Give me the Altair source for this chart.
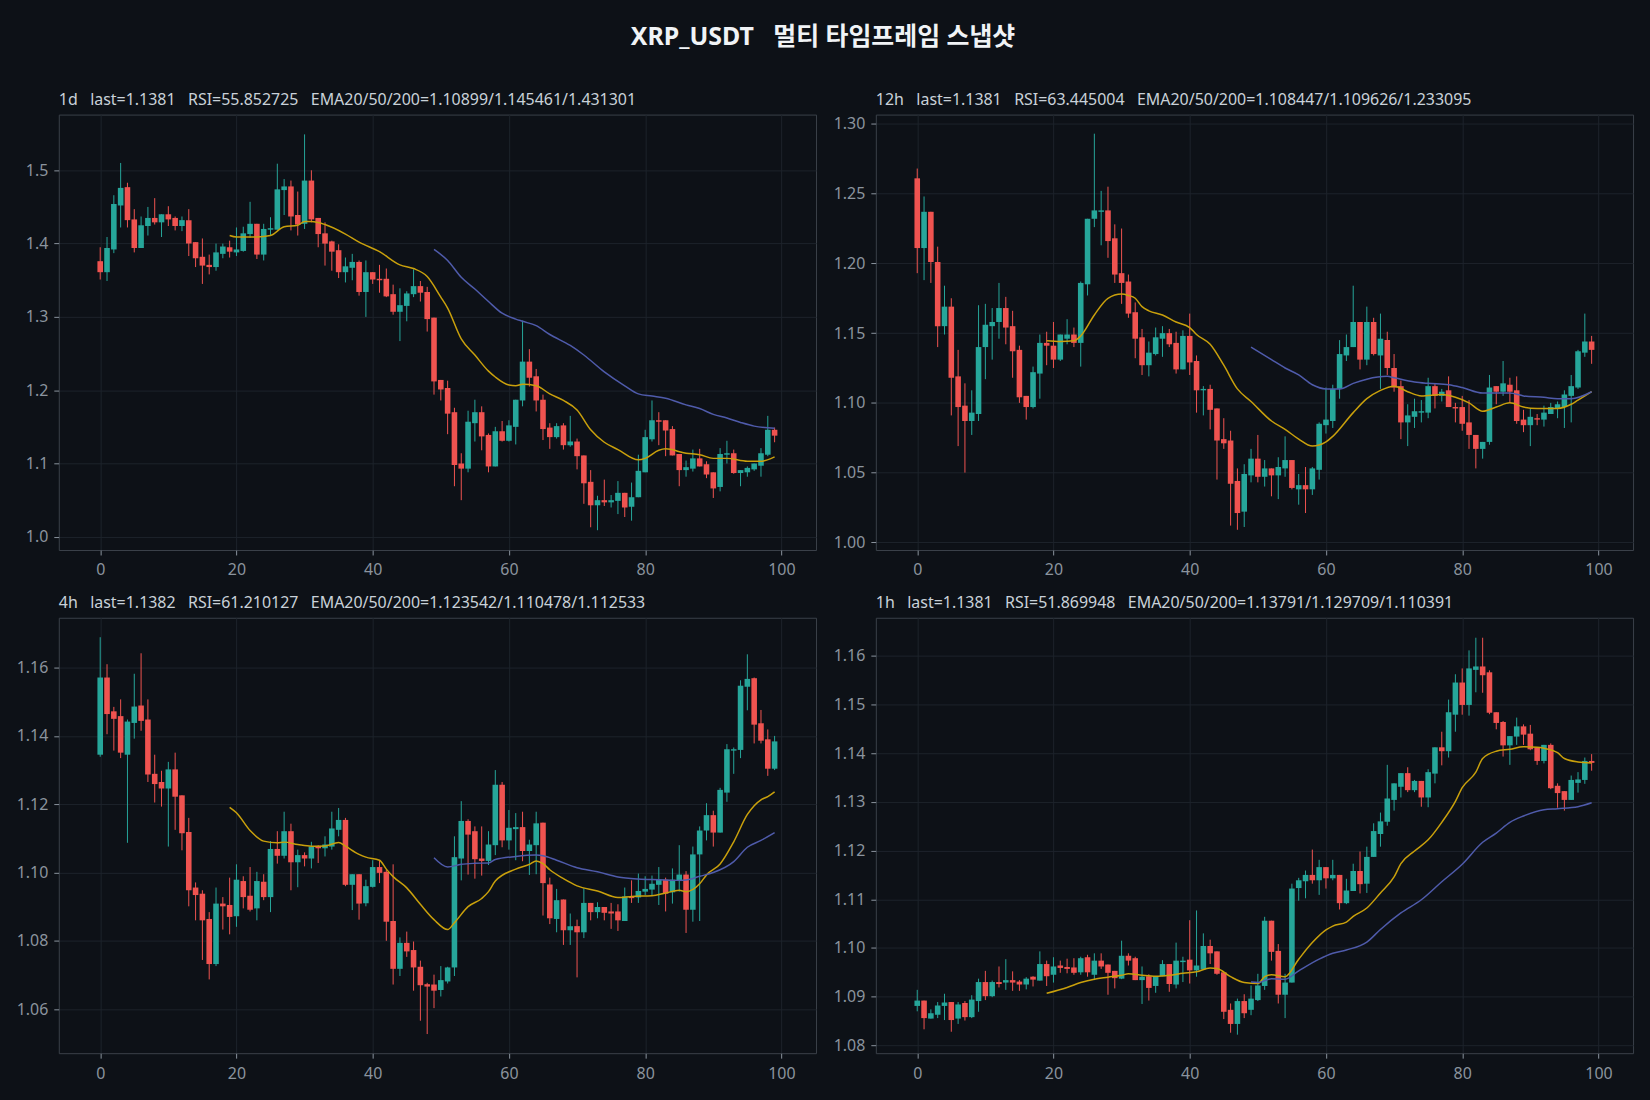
import altair as alt
import pandas as pd

BG = "#0d1117"
UP = "#26a69a"
DOWN = "#ef5350"
EMA20_COLOR = "#c9a00c"
EMA50_COLOR = "#4f5bab"
FONT = "Noto Sans, Noto Sans CJK KR"
SP = "\u00a0\u00a0\u00a0"

MAIN_TITLE = "XRP_USDT\u00a0\u00a0 멀티 타임프레임 스냅샷"
TITLES = [
    "1d" + SP + "last=1.1381" + SP + "RSI=55.852725" + SP + "EMA20/50/200=1.10899/1.145461/1.431301",
    "12h" + SP + "last=1.1381" + SP + "RSI=63.445004" + SP + "EMA20/50/200=1.108447/1.109626/1.233095",
    "4h" + SP + "last=1.1382" + SP + "RSI=61.210127" + SP + "EMA20/50/200=1.123542/1.110478/1.112533",
    "1h" + SP + "last=1.1381" + SP + "RSI=51.869948" + SP + "EMA20/50/200=1.13791/1.129709/1.110391",
]
X_TICKS = [0, 20, 40, 60, 80, 100]

# ---------------- 1d ----------------
D1_OPEN = [1.376,1.361,1.392,1.452,1.477,1.433,1.394,1.424,1.435,1.429,1.440,1.435,1.424,1.432,1.402,1.382,1.371,1.368,1.386,1.395,
           1.388,1.390,1.413,1.427,1.385,1.419,1.419,1.473,1.478,1.439,1.427,1.486,1.435,1.414,1.403,1.391,1.361,1.367,1.375,1.334,
           1.361,1.352,1.352,1.331,1.307,1.315,1.331,1.342,1.334,1.299,1.214,1.203,1.170,1.100,1.093,1.155,1.170,1.139,1.096,1.144,
           1.131,1.150,1.186,1.239,1.219,1.187,1.149,1.136,1.152,1.125,1.130,1.111,1.075,1.043,1.050,1.047,1.049,1.060,1.041,1.054,
           1.088,1.133,1.159,1.159,1.147,1.113,1.091,1.093,1.107,1.099,1.088,1.068,1.112,1.114,1.087,1.088,1.092,1.097,1.112,1.146]
D1_HIGH = [1.395,1.409,1.466,1.510,1.483,1.447,1.437,1.450,1.462,1.440,1.451,1.437,1.437,1.447,1.402,1.407,1.385,1.400,1.400,1.404,
           1.422,1.423,1.457,1.427,1.427,1.436,1.509,1.488,1.486,1.471,1.549,1.500,1.435,1.429,1.404,1.399,1.381,1.386,1.377,1.377,
           1.361,1.371,1.366,1.344,1.339,1.335,1.365,1.349,1.341,1.299,1.214,1.213,1.176,1.114,1.172,1.187,1.178,1.141,1.150,1.158,
           1.159,1.187,1.295,1.256,1.229,1.194,1.155,1.155,1.155,1.165,1.134,1.111,1.091,1.056,1.078,1.057,1.076,1.060,1.074,1.112,
           1.146,1.186,1.170,1.159,1.151,1.113,1.104,1.119,1.120,1.103,1.088,1.121,1.131,1.119,1.091,1.096,1.100,1.121,1.165,1.149]
D1_LOW = [1.351,1.349,1.387,1.422,1.422,1.388,1.394,1.411,1.426,1.409,1.424,1.418,1.417,1.383,1.368,1.345,1.358,1.363,1.380,1.381,
          1.383,1.389,1.408,1.379,1.377,1.411,1.419,1.439,1.418,1.411,1.420,1.429,1.395,1.370,1.363,1.353,1.347,1.350,1.329,1.300,
          1.345,1.333,1.327,1.303,1.267,1.294,1.327,1.321,1.280,1.194,1.186,1.140,1.069,1.050,1.088,1.130,1.118,1.088,1.096,1.130,
          1.130,1.126,1.178,1.205,1.171,1.132,1.120,1.134,1.119,1.123,1.092,1.045,1.013,1.009,1.042,1.040,1.031,1.027,1.022,1.054,
          1.088,1.130,1.125,1.110,1.111,1.069,1.082,1.089,1.096,1.080,1.053,1.062,1.100,1.086,1.069,1.082,1.090,1.082,1.110,1.129]
D1_CLOSE = [1.361,1.394,1.454,1.476,1.432,1.394,1.425,1.435,1.429,1.440,1.433,1.424,1.432,1.400,1.380,1.370,1.368,1.388,1.396,1.389,
            1.392,1.414,1.427,1.385,1.420,1.421,1.474,1.478,1.437,1.426,1.486,1.433,1.413,1.400,1.389,1.361,1.369,1.375,1.334,1.361,
            1.351,1.350,1.328,1.307,1.316,1.332,1.342,1.333,1.297,1.212,1.201,1.168,1.098,1.093,1.157,1.170,1.137,1.096,1.144,1.131,
            1.152,1.187,1.239,1.217,1.186,1.147,1.136,1.151,1.125,1.130,1.110,1.073,1.043,1.050,1.047,1.050,1.060,1.040,1.054,1.090,
            1.136,1.159,1.157,1.145,1.111,1.091,1.095,1.107,1.096,1.085,1.066,1.113,1.114,1.087,1.091,1.094,1.100,1.114,1.146,1.138]
D1_EMA20_X = [19,20,23,25,27,29,30,31,33,36,38,41,44,46,48,50,51,53,55,57,58,60,61,62,64,66,68,70,72,74,76,79,80,82,83,86,88,90,92,95,97,99]
D1_EMA20 = [1.411,1.409,1.409,1.411,1.423,1.425,1.430,1.430,1.426,1.413,1.402,1.389,1.371,1.366,1.355,1.327,1.312,1.270,1.248,1.226,1.218,
            1.207,1.206,1.208,1.206,1.195,1.186,1.173,1.146,1.129,1.119,1.105,1.107,1.118,1.120,1.114,1.112,1.107,1.107,1.103,1.103,1.109]
D1_EMA50_X = [49,51,53,55,57,59,61,62,64,66,69,71,74,77,79,81,83,86,88,90,92,94,96,99]
D1_EMA50 = [1.392,1.377,1.354,1.338,1.321,1.305,1.297,1.294,1.288,1.276,1.261,1.248,1.225,1.206,1.195,1.192,1.189,1.180,1.175,1.167,
            1.162,1.156,1.151,1.148]

# ---------------- 12h ----------------
H12_OPEN = [1.261,1.211,1.237,1.201,1.155,1.169,1.119,1.098,1.087,1.092,1.140,1.155,1.158,1.168,1.155,1.138,1.105,1.097,1.121,1.143,
            1.141,1.131,1.146,1.149,1.143,1.185,1.232,1.237,1.238,1.218,1.193,1.187,1.165,1.147,1.127,1.135,1.146,1.150,1.143,1.124,
            1.148,1.130,1.109,1.110,1.096,1.074,1.073,1.044,1.022,1.048,1.060,1.047,1.053,1.048,1.053,1.059,1.038,1.041,1.038,1.052,
            1.084,1.087,1.110,1.134,1.140,1.158,1.131,1.158,1.134,1.145,1.125,1.112,1.086,1.090,1.093,1.093,1.112,1.105,1.109,1.097,
            1.097,1.086,1.077,1.067,1.072,1.112,1.108,1.113,1.109,1.088,1.084,1.089,1.088,1.092,1.096,1.097,1.105,1.111,1.136,1.144]
H12_HIGH = [1.268,1.248,1.237,1.212,1.184,1.175,1.138,1.114,1.109,1.170,1.171,1.168,1.186,1.176,1.166,1.141,1.105,1.126,1.149,1.151,
            1.158,1.149,1.160,1.154,1.187,1.232,1.293,1.252,1.255,1.228,1.225,1.192,1.172,1.153,1.144,1.154,1.155,1.153,1.151,1.152,
            1.164,1.134,1.112,1.113,1.096,1.089,1.080,1.053,1.056,1.067,1.077,1.059,1.053,1.061,1.076,1.059,1.049,1.054,1.054,1.086,
            1.111,1.113,1.145,1.149,1.184,1.158,1.169,1.161,1.164,1.151,1.135,1.116,1.099,1.103,1.102,1.118,1.114,1.110,1.119,1.100,
            1.105,1.102,1.077,1.072,1.120,1.112,1.130,1.118,1.119,1.095,1.096,1.092,1.098,1.100,1.101,1.109,1.120,1.138,1.164,1.148]
H12_LOW = [1.193,1.188,1.186,1.140,1.149,1.091,1.069,1.050,1.077,1.087,1.117,1.131,1.146,1.142,1.118,1.100,1.088,1.096,1.103,1.127,
           1.125,1.130,1.142,1.140,1.126,1.177,1.226,1.213,1.204,1.186,1.171,1.161,1.132,1.120,1.119,1.134,1.133,1.140,1.121,1.124,
           1.120,1.093,1.091,1.081,1.045,1.067,1.012,1.009,1.011,1.043,1.043,1.040,1.033,1.031,1.047,1.038,1.027,1.021,1.034,1.045,
           1.078,1.082,1.103,1.130,1.140,1.124,1.127,1.134,1.110,1.120,1.108,1.074,1.069,1.082,1.086,1.089,1.096,1.101,1.097,1.086,
           1.080,1.067,1.053,1.060,1.070,1.099,1.105,1.100,1.085,1.079,1.069,1.084,1.083,1.092,1.089,1.082,1.086,1.110,1.133,1.128]
H12_CLOSE = [1.211,1.237,1.201,1.155,1.169,1.118,1.097,1.087,1.093,1.140,1.156,1.158,1.168,1.154,1.137,1.104,1.097,1.122,1.143,1.141,
             1.131,1.149,1.149,1.143,1.186,1.232,1.238,1.238,1.216,1.192,1.186,1.164,1.146,1.127,1.136,1.147,1.150,1.142,1.124,1.148,
             1.129,1.109,1.110,1.095,1.073,1.071,1.042,1.021,1.049,1.060,1.047,1.053,1.048,1.054,1.059,1.039,1.041,1.038,1.053,1.085,
             1.088,1.110,1.135,1.140,1.158,1.131,1.158,1.135,1.146,1.125,1.111,1.086,1.091,1.094,1.094,1.112,1.105,1.108,1.097,1.096,
             1.085,1.077,1.067,1.072,1.111,1.108,1.114,1.108,1.087,1.084,1.090,1.088,1.093,1.097,1.099,1.106,1.112,1.137,1.144,1.138]
H12_EMA20_X = [19,21,23,24,26,28,30,31,32,33,34,36,38,40,41,43,45,47,49,52,54,56,58,60,61,64,66,68,70,72,74,77,79,81,83,85,87,89,91,94,96,97,99]
H12_EMA20 = [1.1445,1.144,1.1445,1.148,1.163,1.175,1.178,1.177,1.175,1.169,1.166,1.163,1.158,1.154,1.149,1.142,1.127,1.110,1.101,1.087,
             1.081,1.074,1.069,1.072,1.076,1.093,1.103,1.109,1.112,1.108,1.105,1.106,1.104,1.100,1.094,1.097,1.100,1.097,1.096,1.096,
             1.099,1.102,1.108]
H12_EMA50_X = [49,52,54,56,58,60,62,64,66,69,70,73,75,78,80,83,86,87,89,92,94,96,99]
H12_EMA50 = [1.140,1.131,1.125,1.120,1.113,1.110,1.110,1.114,1.117,1.119,1.118,1.115,1.114,1.113,1.111,1.107,1.107,1.107,1.105,1.104,
             1.103,1.103,1.108]

# ---------------- 4h ----------------
H4_OPEN = [1.1345,1.1571,1.1472,1.1458,1.1345,1.1438,1.1489,1.1448,1.1289,1.1265,1.1246,1.1302,1.1226,1.1119,1.0956,1.0938,1.0864,1.0732,1.0909,1.0905,
           1.0872,1.0975,1.0932,1.0895,1.0973,1.0928,1.1069,1.1049,1.1121,1.1030,1.1051,1.1041,1.1078,1.1071,1.1076,1.1125,1.1154,1.0964,1.0995,1.0910,
           1.0958,1.1016,1.1002,1.0858,1.0718,1.0794,1.0773,1.0724,1.0673,1.0672,1.0656,1.0681,1.0722,1.1041,1.1151,1.1121,1.1041,1.1034,1.1080,1.1257,
           1.1094,1.1127,1.1133,1.1063,1.1080,1.1146,1.0965,1.0864,1.0921,1.0831,1.0843,1.0825,1.0911,1.0884,1.0899,1.0886,1.0886,1.0858,1.0930,1.0927,
           1.0944,1.0950,1.0964,1.0979,1.0942,1.0975,1.0994,1.0891,1.1053,1.1123,1.1168,1.1117,1.1234,1.1357,1.1359,1.1544,1.1569,1.1437,1.1390,1.1304]
H4_HIGH = [1.1689,1.1610,1.1485,1.1507,1.1448,1.1582,1.1642,1.1507,1.1345,1.1298,1.1324,1.1351,1.1226,1.1160,1.0971,1.0948,1.0884,1.0956,1.0928,1.0985,
           1.1024,1.0989,1.1016,1.1002,1.0995,1.1092,1.1121,1.1178,1.1143,1.1067,1.1059,1.1090,1.1080,1.1106,1.1178,1.1189,1.1160,1.0995,1.0995,1.0979,
           1.1036,1.1036,1.1008,1.1024,1.0810,1.0827,1.0798,1.0742,1.0677,1.0701,1.0726,1.0724,1.1106,1.1209,1.1156,1.1135,1.1135,1.1121,1.1300,1.1265,
           1.1183,1.1174,1.1178,1.1096,1.1178,1.1146,1.0985,1.0952,1.0921,1.0880,1.0862,1.0954,1.0911,1.0913,1.0899,1.0911,1.0907,1.0956,1.0977,1.0997,
           1.0989,1.0991,1.1016,1.0985,1.1012,1.1080,1.1004,1.1076,1.1135,1.1203,1.1181,1.1248,1.1376,1.1366,1.1563,1.1639,1.1571,1.1476,1.1419,1.1400]
H4_LOW = [1.1339,1.1405,1.1357,1.1335,1.1087,1.1392,1.1415,1.1265,1.1205,1.1193,1.1076,1.1125,1.1065,1.0901,1.0860,1.0744,1.0687,1.0726,1.0833,1.0819,
          1.0841,1.0895,1.0886,1.0860,1.0919,1.0884,1.1026,1.1041,1.0948,1.0957,1.1018,1.1012,1.1028,1.1047,1.1067,1.1106,1.0960,1.0890,1.0862,1.0901,
          1.0956,1.0969,1.0800,1.0672,1.0697,1.0753,1.0654,1.0566,1.0527,1.0603,1.0637,1.0675,1.0697,1.0977,1.0994,1.0982,1.0991,1.1022,1.1051,1.1074,
          1.1067,1.1036,1.1033,1.0993,1.0995,1.0874,1.0849,1.0825,1.0788,1.0788,1.0693,1.0808,1.0860,1.0866,1.0860,1.0835,1.0829,1.0858,1.0911,1.0911,
          1.0934,1.0932,1.0905,1.0886,1.0909,1.0944,1.0823,1.0856,1.0858,1.1094,1.1076,1.1117,1.1207,1.1289,1.1335,1.1475,1.1378,1.1378,1.1283,1.1300]
H4_CLOSE = [1.1571,1.1464,1.1450,1.1351,1.1442,1.1486,1.1444,1.1287,1.1259,1.1246,1.1302,1.1222,1.1115,1.0948,1.0934,1.0860,1.0732,1.0909,1.0901,1.0870,
            1.0979,1.0928,1.0891,1.0975,1.0928,1.1069,1.1049,1.1121,1.1030,1.1051,1.1041,1.1076,1.1071,1.1082,1.1129,1.1154,1.0964,1.0995,1.0909,1.0960,
            1.1016,1.0999,1.0856,1.0718,1.0794,1.0769,1.0722,1.0670,1.0666,1.0654,1.0685,1.0722,1.1045,1.1151,1.1111,1.1039,1.1034,1.1082,1.1257,1.1094,
            1.1131,1.1133,1.1063,1.1082,1.1144,1.0969,1.0866,1.0919,1.0831,1.0843,1.0825,1.0911,1.0884,1.0899,1.0882,1.0880,1.0860,1.0930,1.0925,1.0946,
            1.0952,1.0967,1.0979,1.0938,1.0979,1.0994,1.0891,1.1053,1.1123,1.1168,1.1117,1.1242,1.1361,1.1361,1.1547,1.1567,1.1433,1.1386,1.1304,1.1384]
H4_EMA20_X = [19,20,22,24,26,27,29,31,33,35,36,38,39,41,42,43,45,47,49,51,52,54,56,57,58,61,63,64,65,66,68,70,73,76,78,81,83,85,86,88,89,91,93,95,97,98,99]
H4_EMA20 = [1.1191,1.1175,1.1123,1.1092,1.1087,1.1089,1.1082,1.1077,1.1078,1.1088,1.1077,1.1053,1.1045,1.1036,1.1010,1.0988,1.0955,1.0907,1.0862,1.0833,
            1.0853,1.0900,1.0924,1.0944,1.0975,1.1010,1.1024,1.1034,1.1026,1.1008,1.0982,1.0961,1.0946,1.0927,1.0930,1.0932,1.0940,1.0948,1.0944,1.0967,
            1.0993,1.1025,1.1090,1.1170,1.1213,1.1222,1.1236]
H4_EMA50_X = [49,51,53,55,57,58,61,64,65,67,70,73,76,79,82,85,86,88,90,93,95,97,99]
H4_EMA50 = [1.1043,1.1016,1.1024,1.1027,1.1028,1.1038,1.1047,1.1051,1.1049,1.1036,1.1014,1.1002,1.0987,1.0981,1.0979,1.0977,1.0978,1.0989,1.1000,1.1032,
            1.1074,1.1094,1.1117]

# ---------------- 1h ----------------
H1_OPEN = [1.0881,1.0892,1.0855,1.0863,1.0881,1.0889,1.0855,1.0887,1.0858,1.0891,1.0930,1.0901,1.0930,1.0929,1.0934,1.0931,1.0925,1.0941,1.0933,1.0967,
           1.0945,1.0964,1.0961,1.0960,1.0950,1.0981,1.0945,1.0974,1.0966,1.0953,1.0937,1.0984,1.0979,1.0934,1.0942,1.0922,1.0942,1.0967,1.0925,1.0971,
           1.0976,1.0954,1.0956,1.1004,1.0993,1.0950,1.0873,1.0844,1.0891,1.0873,1.0893,1.0922,1.1056,1.0994,1.0904,1.0929,1.1123,1.1137,1.1150,1.1139,
           1.1166,1.1143,1.1150,1.1092,1.1117,1.1158,1.1132,1.1187,1.1234,1.1259,1.1304,1.1331,1.1359,1.1324,1.1343,1.1309,1.1358,1.1412,1.1404,1.1479,
           1.1545,1.1499,1.1571,1.1578,1.1566,1.1484,1.1464,1.1416,1.1434,1.1455,1.1440,1.1412,1.1384,1.1417,1.1333,1.1322,1.1304,1.1339,1.1345,1.1384]
H1_HIGH = [1.0914,1.0892,1.0874,1.0889,1.0906,1.0889,1.0889,1.0891,1.0903,1.0937,1.0953,1.0933,1.0962,1.0977,1.0952,1.0934,1.0940,1.0942,1.0993,1.0974,
           1.0981,1.0974,1.0978,1.0979,1.0982,1.0986,1.0989,1.0989,1.0966,1.0953,1.1015,1.0989,1.0982,1.0962,1.0946,1.0942,1.0975,1.0967,1.1011,1.0982,
           1.1057,1.1077,1.1030,1.1017,1.0993,1.0950,1.0886,1.0896,1.0905,1.0923,1.0947,1.1064,1.1056,1.1008,1.0947,1.1132,1.1144,1.1159,1.1202,1.1181,
           1.1166,1.1181,1.1150,1.1142,1.1173,1.1198,1.1208,1.1256,1.1278,1.1376,1.1338,1.1359,1.1371,1.1345,1.1343,1.1367,1.1412,1.1444,1.1510,1.1562,
           1.1574,1.1611,1.1637,1.1637,1.1570,1.1484,1.1466,1.1435,1.1473,1.1459,1.1458,1.1412,1.1417,1.1420,1.1338,1.1322,1.1354,1.1361,1.1391,1.1398]
H1_LOW = [1.0870,1.0833,1.0855,1.0856,1.0852,1.0828,1.0844,1.0851,1.0856,1.0869,1.0893,1.0899,1.0919,1.0914,1.0912,1.0912,1.0915,1.0921,1.0933,1.0922,
          1.0929,1.0949,1.0948,1.0945,1.0945,1.0941,1.0934,1.0957,1.0904,1.0917,1.0936,1.0964,1.0934,1.0885,1.0892,1.0908,1.0942,1.0910,1.0917,1.0930,
          1.0927,1.0941,1.0956,1.0967,1.0945,1.0854,1.0826,1.0822,1.0856,1.0862,1.0891,1.0914,1.0974,1.0886,1.0856,1.0929,1.1097,1.1102,1.1132,1.1109,
          1.1122,1.1139,1.1079,1.1090,1.1117,1.1112,1.1113,1.1187,1.1208,1.1251,1.1282,1.1309,1.1320,1.1320,1.1290,1.1289,1.1338,1.1375,1.1391,1.1444,
          1.1479,1.1477,1.1525,1.1524,1.1480,1.1449,1.1393,1.1376,1.1417,1.1417,1.1406,1.1376,1.1379,1.1326,1.1288,1.1282,1.1304,1.1319,1.1337,1.1364]
H1_CLOSE = [1.0892,1.0856,1.0866,1.0882,1.0888,1.0852,1.0884,1.0858,1.0894,1.0930,1.0901,1.0930,1.0926,1.0934,1.0929,1.0925,1.0937,1.0935,1.0967,1.0942,
            1.0962,1.0959,1.0957,1.0949,1.0979,1.0950,1.0974,1.0962,1.0949,1.0938,1.0984,1.0974,1.0934,1.0941,1.0918,1.0942,1.0967,1.0926,1.0974,1.0974,
            1.0954,1.0964,1.1004,1.0989,1.0947,1.0869,1.0844,1.0891,1.0866,1.0896,1.0923,1.1056,1.0992,1.0904,1.0929,1.1122,1.1139,1.1150,1.1139,1.1166,
            1.1143,1.1150,1.1092,1.1118,1.1158,1.1131,1.1187,1.1240,1.1260,1.1307,1.1338,1.1359,1.1324,1.1343,1.1309,1.1361,1.1412,1.1404,1.1484,1.1545,
            1.1499,1.1574,1.1578,1.1560,1.1483,1.1462,1.1416,1.1435,1.1455,1.1438,1.1408,1.1384,1.1417,1.1328,1.1318,1.1304,1.1345,1.1346,1.1384,1.1380]
H1_EMA20_X = [19,22,24,26,28,30,31,33,35,37,39,41,43,44,46,48,50,51,52,54,56,58,60,61,63,64,66,68,70,71,73,75,77,79,80,82,83,85,87,89,91,92,94,95,97,99]
H1_EMA20 = [1.0907,1.0919,1.0929,1.0936,1.0940,1.0944,1.0947,1.0944,1.0942,1.0944,1.0948,1.0951,1.0959,1.0958,1.0941,1.0929,1.0927,1.0941,1.0945,1.0941,
            1.0977,1.1011,1.1037,1.1045,1.1053,1.1065,1.1082,1.1113,1.1146,1.1173,1.1199,1.1222,1.1258,1.1301,1.1329,1.1361,1.1389,1.1404,1.1408,1.1413,
            1.1412,1.1410,1.1401,1.1389,1.1382,1.1380]
H1_EMA50_X = [49,50,52,54,56,59,61,63,66,68,71,74,77,80,83,85,87,89,92,94,97,99]
H1_EMA50 = [1.0930,1.0929,1.0937,1.0936,1.0953,1.0977,1.0989,1.0996,1.1012,1.1038,1.1072,1.1099,1.1136,1.1172,1.1217,1.1236,1.1258,1.1271,1.1284,1.1286,
            1.1290,1.1298]

PANEL_W = 760
PANEL_H = 437
X_DOMAIN = [-5.35, 104.35]


def panel(title, o, h, l, c, e20x, e20, e50x, e50, ydom, yticks, yfmt):
    df = pd.DataFrame({"i": list(range(len(o))), "open": o, "high": h, "low": l, "close": c})
    df["col"] = [UP if cc >= oo else DOWN for oo, cc in zip(o, c)]
    ema = pd.concat([
        pd.DataFrame({"i": e20x, "v": e20, "s": "EMA20"}),
        pd.DataFrame({"i": e50x, "v": e50, "s": "EMA50"}),
    ])
    xenc = alt.X("i:Q", scale=alt.Scale(domain=X_DOMAIN, nice=False, zero=False),
                 axis=alt.Axis(values=X_TICKS, title=None, format="d"))
    yscale = alt.Scale(domain=ydom, nice=False, zero=False)
    yaxis = alt.Axis(values=yticks, title=None, format=yfmt)
    base = alt.Chart(df)
    wick = base.mark_rule(strokeWidth=1).encode(
        x=xenc, y=alt.Y("low:Q", scale=yscale, axis=yaxis), y2="high:Q",
        color=alt.Color("col:N", scale=None))
    body = base.mark_bar(width=5.6).encode(
        x=xenc, y=alt.Y("open:Q", scale=yscale, axis=yaxis), y2="close:Q",
        color=alt.Color("col:N", scale=None))
    lines = alt.Chart(ema).mark_line(strokeWidth=1.5, interpolate="monotone").encode(
        x=xenc, y=alt.Y("v:Q", scale=yscale, axis=yaxis),
        color=alt.Color("s:N", scale=alt.Scale(domain=["EMA20", "EMA50"], range=[EMA20_COLOR, EMA50_COLOR]), legend=None),
        detail="s:N")
    return alt.layer(wick, body, lines).properties(
        width=PANEL_W, height=PANEL_H,
        title=alt.TitleParams(title, anchor="start", frame="group", fontSize=16, font=FONT,
                              color="#c9d1d9", fontWeight="normal", offset=7))


tl = panel(TITLES[0], D1_OPEN, D1_HIGH, D1_LOW, D1_CLOSE, D1_EMA20_X, D1_EMA20, D1_EMA50_X, D1_EMA50,
           [0.982, 1.576], [1.0, 1.1, 1.2, 1.3, 1.4, 1.5], ".1f")
tr = panel(TITLES[1], H12_OPEN, H12_HIGH, H12_LOW, H12_CLOSE, H12_EMA20_X, H12_EMA20, H12_EMA50_X, H12_EMA50,
           [0.9945, 1.3067], [1.0, 1.05, 1.1, 1.15, 1.2, 1.25, 1.3], ".2f")
bl = panel(TITLES[2], H4_OPEN, H4_HIGH, H4_LOW, H4_CLOSE, H4_EMA20_X, H4_EMA20, H4_EMA50_X, H4_EMA50,
           [1.0471, 1.1746], [1.06, 1.08, 1.10, 1.12, 1.14, 1.16], ".2f")
br = panel(TITLES[3], H1_OPEN, H1_HIGH, H1_LOW, H1_CLOSE, H1_EMA20_X, H1_EMA20, H1_EMA50_X, H1_EMA50,
           [1.0784, 1.1678], [1.08, 1.09, 1.10, 1.11, 1.12, 1.13, 1.14, 1.15, 1.16], ".2f")

row1 = alt.hconcat(tl, tr, spacing=12)
row2 = alt.hconcat(bl, br, spacing=12)

chart = alt.vconcat(row1, row2, spacing=9).properties(
    title=alt.TitleParams(MAIN_TITLE, anchor="middle", fontSize=25, font=FONT, fontWeight="bold",
                          color="#f0f3f6", offset=41),
    background=BG,
    padding={"left": 12, "right": 16, "top": 23, "bottom": 12},
).configure_view(
    stroke="#3a4049", strokeWidth=1, fill=BG
).configure_axis(
    labelFont=FONT, labelFontSize=16, labelColor="#8b949e",
    tickColor="#8b949e", tickSize=5, tickWidth=1,
    gridColor="#1d232b", gridWidth=1, domain=False,
).configure_axisY(
    minExtent=46, maxExtent=46, labelPadding=6
).configure_axisX(
    minExtent=34, maxExtent=34, labelPadding=7
).configure_concat(spacing=12)

chart.save("out.html", embed_options={"renderer": "svg", "actions": False})
